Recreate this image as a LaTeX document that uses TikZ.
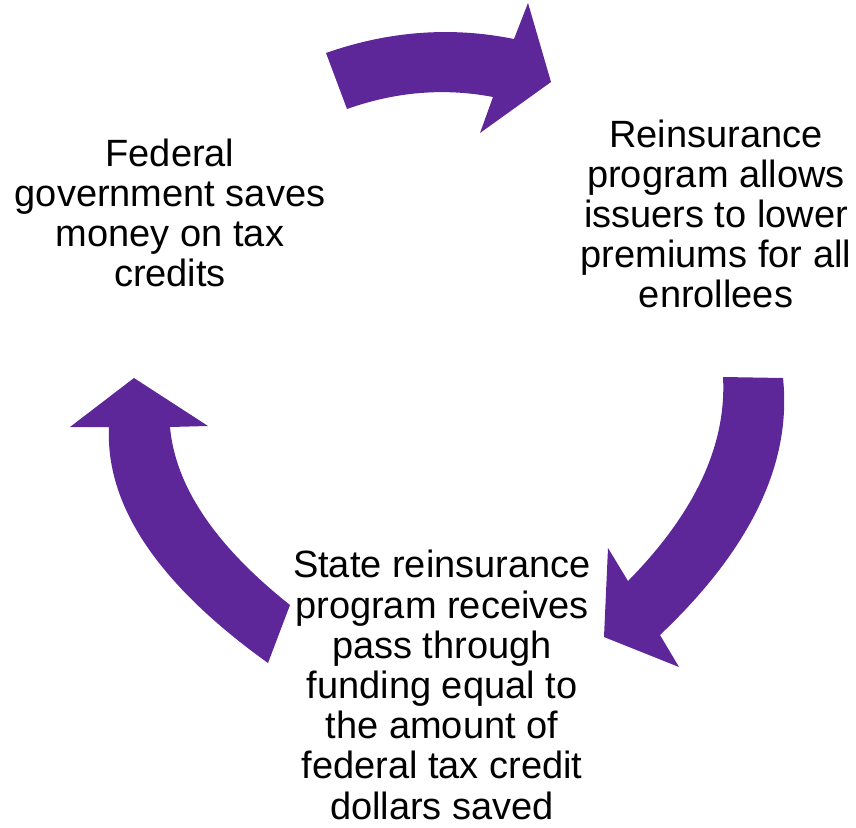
\documentclass[tikz,border=0pt]{standalone}
\usepackage{fontspec}
\setmainfont{Liberation Sans}
\definecolor{cyclepurple}{RGB}{93,38,153}
\begin{document}
\begin{tikzpicture}[
    x=1pt, y=-1pt,
    % Réglages du texte des trois étapes
    step text/.style={align=center, inner sep=0pt,
        font=\fontsize{38}{40.2}\selectfont},
    block arrow/.style={fill=cyclepurple, draw=none} % flèches pleines
]
\useasboundingbox (0,0) rectangle (856,827);

% Étapes du cycle
\node[step text] (federal) at (170,213) {Federal\\government saves\\money on tax\\credits};
\node[step text] (reinsurance) at (716,214) {Reinsurance\\program allows\\issuers to lower\\premiums for all\\enrollees};
\node[step text] (state) at (442,685) {State reinsurance\\program receives\\pass through\\funding equal to\\the amount of\\federal tax credit\\dollars saved};

% Flèche du haut
\path[block arrow] (326,53) .. controls (388.7,31) and (451.3,26.3) .. (514,39)
    -- (528,3) -- (551,82) -- (480,133) -- (493,97)
    .. controls (444.3,87.7) and (395.7,91.7) .. (347,109) -- cycle;
% Flèche de droite
\path[block arrow] (723,377) -- (783,378)
    .. controls (792,463) and (751,548.7) .. (660,635)
    -- (679,667) -- (604,637) -- (608,548) -- (628,581)
    .. controls (695,513) and (726.7,445) .. (723,377) -- cycle;
% Flèche de gauche
\path[block arrow] (134,378) -- (208,426) -- (170,427)
    .. controls (175.3,486.3) and (215.3,545.7) .. (290,605)
    -- (268,663)
    .. controls (158.3,584.3) and (105.3,505.7) .. (109,427)
    -- (70,427) -- cycle;
\end{tikzpicture}
\end{document}
